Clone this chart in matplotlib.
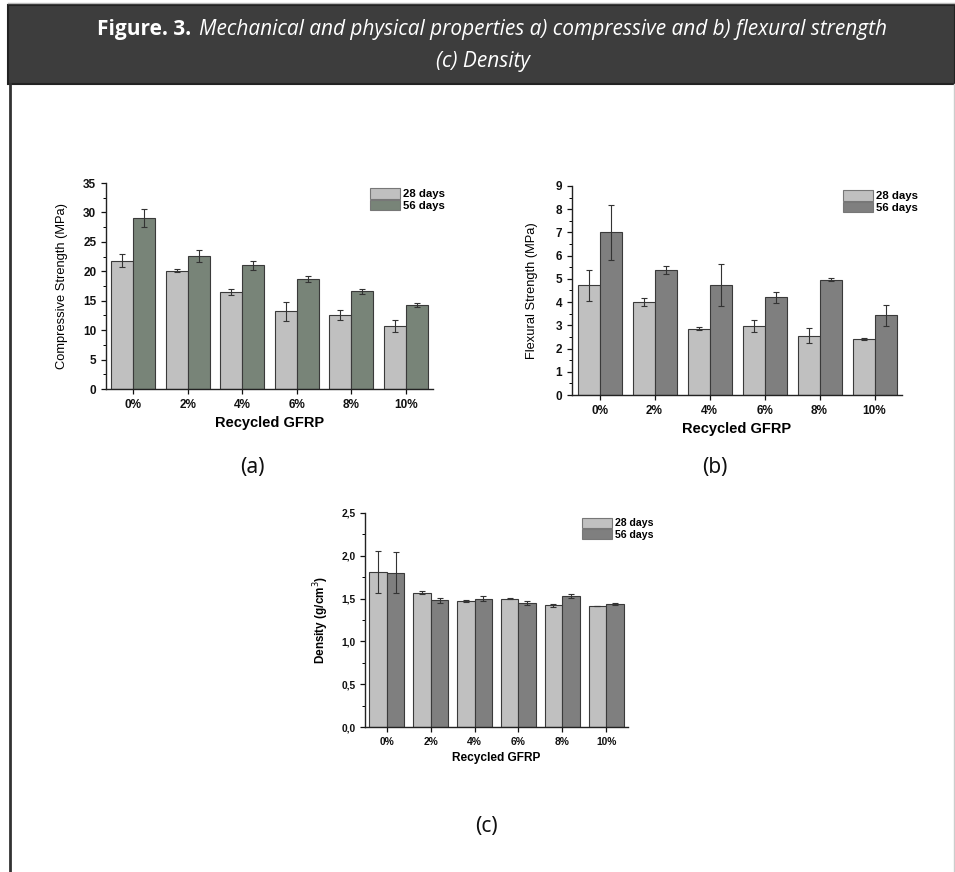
import matplotlib
matplotlib.use("Agg")
import matplotlib.pyplot as plt
import matplotlib.patches as mpatches
from matplotlib.ticker import MultipleLocator, FuncFormatter
import numpy as np

W, H = 955, 872

categories = ["0%", "2%", "4%", "6%", "8%", "10%"]
series_names = ["28 days", "56 days"]

comp_28 = [21.8, 20.1, 16.5, 13.2, 12.6, 10.7]
comp_28_err = [1.1, 0.3, 0.45, 1.6, 0.8, 1.0]
comp_56 = [29.0, 22.6, 21.0, 18.7, 16.6, 14.3]
comp_56_err = [1.5, 0.95, 0.75, 0.45, 0.4, 0.3]

flex_28 = [4.72, 4.02, 2.86, 2.98, 2.56, 2.40]
flex_28_err = [0.67, 0.17, 0.08, 0.27, 0.31, 0.05]
flex_56 = [7.0, 5.38, 4.72, 4.2, 4.97, 3.44]
flex_56_err = [1.17, 0.18, 0.9, 0.25, 0.08, 0.45]

dens_28 = [1.81, 1.57, 1.47, 1.50, 1.42, 1.41]
dens_28_err = [0.25, 0.02, 0.015, 0.01, 0.02, 0.0]
dens_56 = [1.80, 1.48, 1.50, 1.45, 1.53, 1.44]
dens_56_err = [0.24, 0.03, 0.03, 0.02, 0.02, 0.01]

title_bold = "Figure. 3."
title_rest = "Mechanical and physical properties a) compressive and b) flexural strength"
title_line2 = "(c) Density"

plt.rcParams['font.family'] = ['Liberation Sans', 'DejaVu Sans']

fig = plt.figure(figsize=(W / 100, H / 100), dpi=100)


def px(x, y):
    # pixel position (from top-left) -> figure fraction
    return x / W, 1 - y / H


def box(x0, y0, x1, y1):
    return [x0 / W, 1 - y1 / H, (x1 - x0) / W, (y1 - y0) / H]


# page frame
fig.add_artist(plt.Line2D([8 / W, 1], [1 - 3.5 / H, 1 - 3.5 / H], transform=fig.transFigure,
                          color="#bbbbbb", linewidth=1))
fig.patches.append(mpatches.Rectangle((8 / W, 1 - 84 / H), (W - 8) / W, 79 / H,
                                      transform=fig.transFigure, facecolor="#3d3d3d",
                                      edgecolor="#222222", linewidth=1.5))
fig.add_artist(plt.Line2D([9.5 / W, 9.5 / W], [0, 1 - 84 / H], transform=fig.transFigure,
                          color="#333333", linewidth=2))
fig.add_artist(plt.Line2D([953.5 / W, 953.5 / W], [0, 1 - 84 / H], transform=fig.transFigure,
                          color="#cccccc", linewidth=1))

# header text, fitted to the width of the original line
hfam = ["Liberation Sans Narrow", "Open Sans", "DejaVu Sans"]
x_start, x_end = 97, 890
fs = 15
renderer = fig.canvas.get_renderer()
t1 = fig.text(*px(x_start, 30), title_bold, color="white", fontsize=fs, fontweight="bold",
              family=hfam, ha="left", va="center")
t2 = fig.text(*px(x_start, 30), title_rest, color="white", fontsize=fs, fontstyle="italic",
              family=hfam, ha="left", va="center")
gap = 8
w1 = t1.get_window_extent(renderer).width
w2 = t2.get_window_extent(renderer).width
scale = (x_end - x_start - gap) / (w1 + w2)
fs = fs * scale
t1.set_fontsize(fs)
t2.set_fontsize(fs)
w1 = t1.get_window_extent(renderer).width
t2.set_x((x_start + w1 + gap) / W)
fig.text(*px(483, 62), title_line2, color="white", fontsize=fs, fontstyle="italic",
         family=hfam, ha="center", va="center")


def panel(rect, v28, e28, v56, e56, dark, ymax, ystep, yminor, ylabel, fmt, legend_xy,
          ylabel_bold=False, tsize=8.5, ysize=9.3, xsize=10.5, lsize=8.2, ypad=11):
    ax = fig.add_axes(rect)
    x = np.arange(len(categories))
    w = 0.4
    ax.bar(x - w / 2, v28, w, yerr=e28, color="#c0c0c0", edgecolor="#3a3a3a", linewidth=0.8,
           error_kw=dict(ecolor="#333333", elinewidth=0.8, capsize=2, capthick=0.8), label=series_names[0])
    ax.bar(x + w / 2, v56, w, yerr=e56, color=dark, edgecolor="#3a3a3a", linewidth=0.8,
           error_kw=dict(ecolor="#333333", elinewidth=0.8, capsize=2, capthick=0.8), label=series_names[1])
    ax.set_xlim(-0.5, len(categories) - 0.5)
    ax.set_ylim(0, ymax)
    ax.set_xticks(x)
    ax.set_xticklabels(categories)
    ax.xaxis.set_minor_locator(MultipleLocator(0.5))
    ax.yaxis.set_major_locator(MultipleLocator(ystep))
    ax.yaxis.set_minor_locator(MultipleLocator(yminor))
    ax.yaxis.set_major_formatter(FuncFormatter(fmt))
    for s in ["top", "right"]:
        ax.spines[s].set_visible(False)
    for s in ["left", "bottom"]:
        ax.spines[s].set_linewidth(1.0)
        ax.spines[s].set_color("#222222")
    ax.tick_params(which="major", length=3.5, width=0.9, labelsize=tsize, colors="#111111")
    ax.tick_params(which="minor", length=2, width=0.7)
    ax.tick_params(axis="x", which="minor", length=0)
    for lab in ax.get_xticklabels() + ax.get_yticklabels():
        lab.set_fontweight("bold")
    ax.set_ylabel(ylabel, fontsize=ysize, fontweight="bold" if ylabel_bold else "normal", labelpad=ypad)
    ax.set_xlabel("Recycled GFRP", fontsize=xsize, fontweight="bold", labelpad=4)
    h = [mpatches.Patch(facecolor="#c0c0c0", edgecolor="#777777", linewidth=0.8),
         mpatches.Patch(facecolor=dark, edgecolor="#777777", linewidth=0.8)]
    hl = 30 / (lsize * 100 / 72)
    ax.legend(h, series_names, loc="upper left", bbox_to_anchor=px(*legend_xy),
              bbox_transform=fig.transFigure, frameon=False,
              prop=dict(weight="bold", size=lsize), handlelength=hl, handleheight=1.05,
              labelspacing=0.05, borderpad=0, handletextpad=0.3, borderaxespad=0)
    return ax


int_fmt = lambda v, p: "%d" % v
comma_fmt = lambda v, p: ("%.1f" % v).replace(".", ",")

panel(box(106, 183, 433, 389), comp_28, comp_28_err, comp_56, comp_56_err, "#788478",
      35, 5, 2.5, "Compressive Strength (MPa)", int_fmt, (370, 188))
panel(box(572, 186, 902, 395), flex_28, flex_28_err, flex_56, flex_56_err, "#7f7f7f",
      9, 1, 0.5, "Flexural Strength (MPa)", int_fmt, (843, 190), ypad=13)
panel(box(365, 513, 628, 727), dens_28, dens_28_err, dens_56, dens_56_err, "#7f7f7f",
      2.5, 0.5, 0.25, "Density (g/cm$^3$)", comma_fmt, (582, 518), ylabel_bold=True,
      tsize=7.4, ysize=8.5, xsize=8.6, lsize=7.6, ypad=7)

for lab, (lx, ly) in zip(["(a)", "(b)", "(c)"], [(252, 467), (715, 467), (486, 826)]):
    fig.text(*px(lx, ly), lab, fontsize=15, family=["Noto Sans", "DejaVu Sans"],
             ha="center", va="center", color="#111111")

fig.savefig("out.png", dpi=100)
